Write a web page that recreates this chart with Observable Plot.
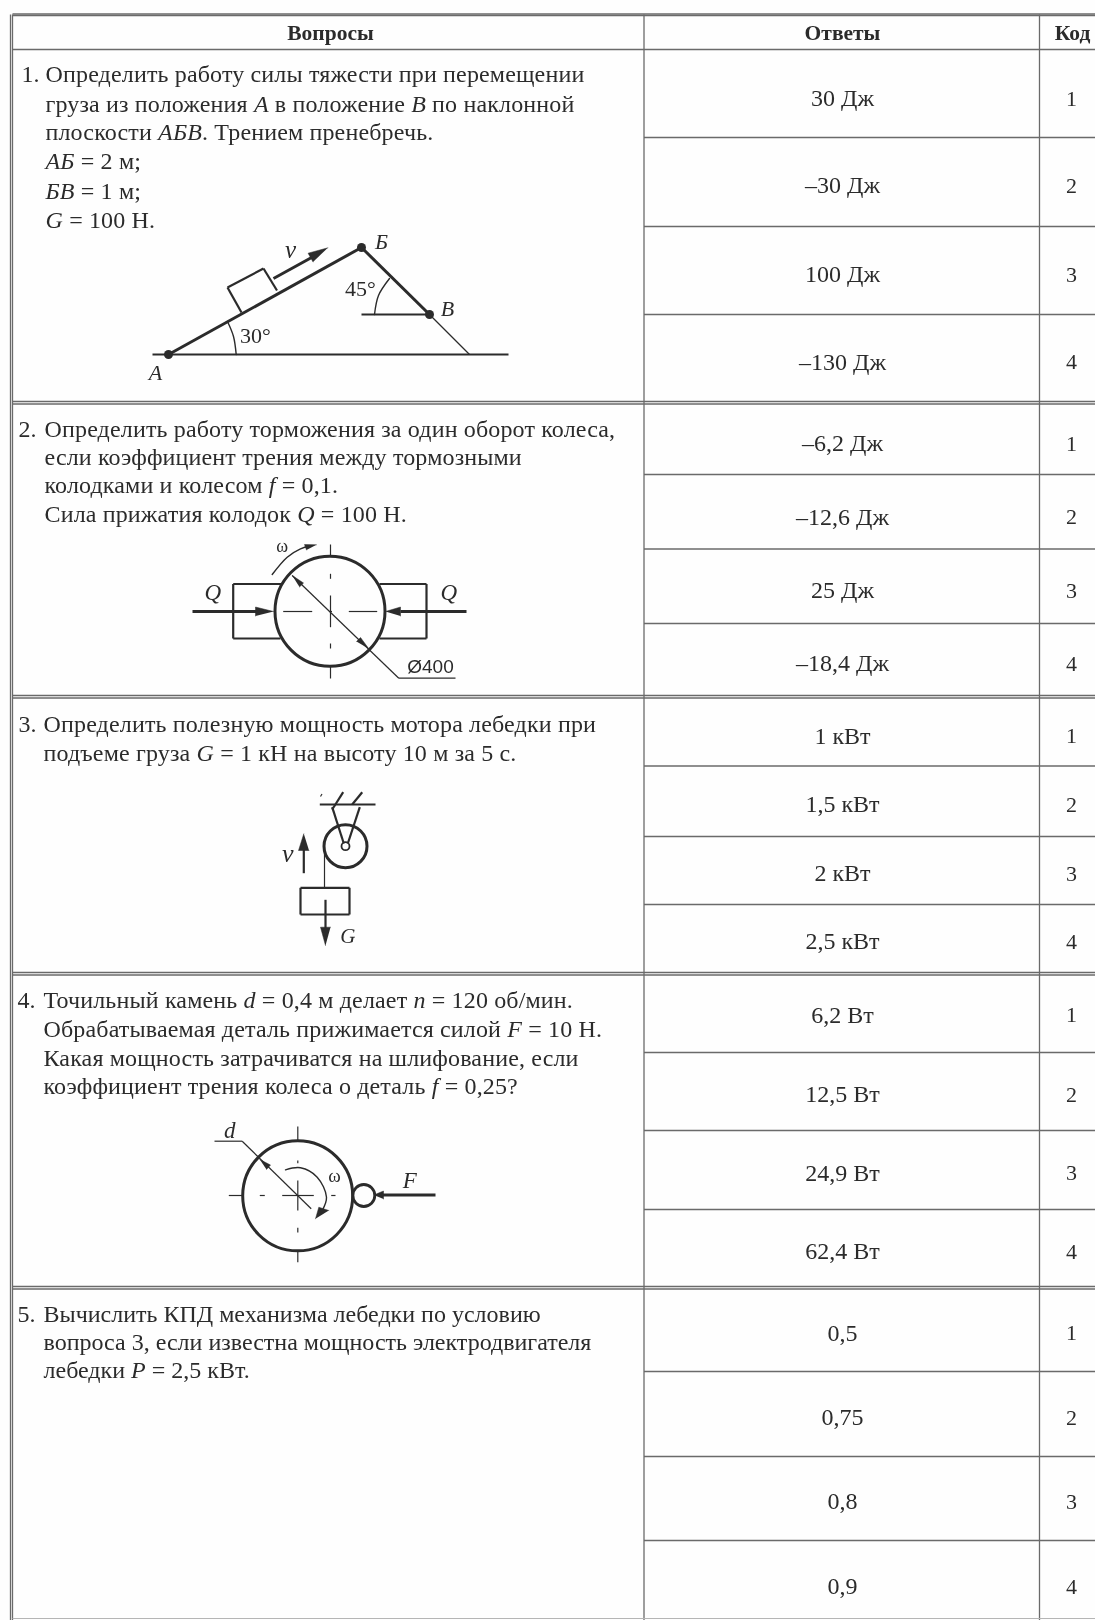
<!DOCTYPE html>
<html lang="ru">
<head>
<meta charset="utf-8">
<script src="https://cdn.jsdelivr.net/npm/d3@7"></script>
<script src="https://cdn.jsdelivr.net/npm/@observablehq/plot@0.6"></script>
<style>
html,body{margin:0;padding:0;background:#fff}
svg{display:block;filter:blur(0.45px)}
</style>
</head>
<body>
<div id="chart"></div>
<script>
// ---------- table structure ----------
const headers = [["Вопросы", 330], ["Ответы", 842], ["Код", 1072]];
const columnEdges = [12, 643.5, 1039];
const sectionEdges = [49, 401, 695, 972, 1286];
const answerEdges = [137, 226, 314, 474, 548.5, 623, 765.5, 836, 904, 1052, 1130, 1209, 1371, 1456, 1540];

// ---------- questions; _x_ marks italics ----------
const questionNumbers = [["1.", 21, 81.5], ["2.", 18, 436], ["3.", 18, 731], ["4.", 17, 1007], ["5.", 17, 1321.5]];
const questionLines = [
  [45, 81.5, "Определить работу силы тяжести при перемещении"],
  [45, 111, "груза из положения _А_ в положение _В_ по наклонной"],
  [45, 139.5, "плоскости _АБВ_. Трением пренебречь."],
  [45, 168, "_АБ_ = 2 м;"],
  [45, 198, "_БВ_ = 1 м;"],
  [45, 227, "_G_ = 100 Н."],
  [44, 436, "Определить работу торможения за один оборот колеса,"],
  [44, 464.5, "если коэффициент трения между тормозными"],
  [44, 492.5, "колодками и колесом _f_ = 0,1."],
  [44, 521, "Сила прижатия колодок _Q_ = 100 Н."],
  [43, 731, "Определить полезную мощность мотора лебедки при"],
  [43, 760, "подъеме груза _G_ = 1 кН на высоту 10 м за 5 с."],
  [43, 1007, "Точильный камень _d_ = 0,4 м делает _n_ = 120 об/мин."],
  [43, 1036, "Обрабатываемая деталь прижимается силой _F_ = 10 Н."],
  [43, 1065, "Какая мощность затрачиватся на шлифование, если"],
  [43, 1093.5, "коэффициент трения колеса о деталь _f_ = 0,25?"],
  [43, 1321.5, "Вычислить КПД механизма лебедки по условию"],
  [43, 1349.5, "вопроса 3, если известна мощность электродвигателя"],
  [43, 1377.5, "лебедки _P_ = 2,5 кВт."]
];

// ---------- answers ----------
const answers = ["30 Дж", "–30 Дж", "100 Дж", "–130 Дж",
  "–6,2 Дж", "–12,6 Дж", "25 Дж", "–18,4 Дж",
  "1 кВт", "1,5 кВт", "2 кВт", "2,5 кВт",
  "6,2 Вт", "12,5 Вт", "24,9 Вт", "62,4 Вт",
  "0,5", "0,75", "0,8", "0,9"];
const answerRows = [98, 185, 274, 361.5, 443, 516.5, 590, 663, 735.5, 804, 873, 941, 1014.5, 1094, 1172.5, 1251, 1332.5, 1417, 1501, 1586];
const codes = ["1", "2", "3", "4"];

// ---------- diagrams: heavy, medium and thin strokes, [x1,y1,x2,y2] ----------
const heavy = [
  [168, 354, 361, 247], [361, 247, 429, 314],
  [273, 278, 312, 256.5],
  [192, 611, 256, 611], [400, 611, 466, 611],
  [435, 1194.5, 382, 1194.5]
];
const medium = [
  [152, 354, 508, 354], [361, 314, 429, 314],
  [227, 287, 263, 268], [263, 268, 276.5, 290], [227, 287, 241, 312],
  [232.7, 583.5, 281.5, 583.5], [232.7, 583.5, 232.7, 638], [232.7, 638, 280, 638],
  [379, 583.5, 426, 583.5], [426, 583.5, 426, 638], [379, 638, 426, 638],
  [319.3, 804, 375, 804], [300, 887.3, 349, 887.3], [300, 914, 349, 914],
  [300, 887.3, 300, 914], [349, 887.3, 349, 914],
  [325, 899.3, 325, 928], [303.3, 872.7, 303.3, 849],
  [331.7, 806.7, 343.3, 843], [359.3, 806.7, 347.3, 843],
  [342.7, 791.7, 331.7, 809], [361.7, 791.7, 351.7, 804]
];
const thin = [
  [429, 314, 469, 354],
  [330, 544, 330, 555], [330, 573.3, 330, 578.3], [330, 595, 330, 626.7], [330, 643, 330, 648], [330, 665, 330, 678],
  [282.7, 611, 311.7, 611], [328.5, 611, 331.5, 611], [348.3, 611, 376.7, 611],
  [291.7, 575, 398.3, 677.7], [398.3, 677.7, 455, 677.7],
  [321.5, 793.5, 320, 796],
  [324, 845.7, 324, 887.3],
  [297.3, 1126, 297.3, 1140], [297.3, 1160, 297.3, 1162.7], [297.3, 1180, 297.3, 1210], [297.3, 1227.3, 297.3, 1232], [297.3, 1250, 297.3, 1261.7],
  [228.3, 1195, 241.7, 1195], [259.3, 1195, 264.3, 1195], [281.7, 1195, 313.3, 1195], [330.7, 1195, 335, 1195],
  [214, 1140.7, 241.7, 1140.7], [241.7, 1140.7, 310.7, 1208.3]
];
const arcs = [
  [[235.7, 354], [233, 336], [227, 321]],
  [[374, 314], [378, 295], [389, 278]],
  [[271.7, 574], [286.7, 556.7], [300, 548.3], [310, 545.5]],
  [[285, 1169.3], [300, 1167.3], [316.7, 1176.7], [326, 1196.7], [321.7, 1210]]
];
const arrowHeads = [
  [[327.4, 247.3], [307.6, 252.7], [312.5, 261.4]],
  [[273, 611], [255, 606.5], [255, 615.5]],
  [[385, 611], [400, 606.5], [400, 615.5]],
  [[291.7, 575], [303, 582.5], [299, 586.5]],
  [[368.3, 648.3], [360, 637], [356, 641]],
  [[316, 544.3], [304, 544], [306, 549.5]],
  [[325, 945], [320, 926.7], [330, 926.7]],
  [[303.3, 833.3], [298, 850], [308.5, 850]],
  [[259.3, 1159], [270, 1164.5], [266, 1169]],
  [[315, 1218.3], [318.3, 1206.7], [328.3, 1210]],
  [[373.3, 1194.5], [383, 1190.5], [383, 1198.5]]
];
const wheels = [[329.5, 610.7, 55, 3], [297.2, 1195.3, 55, 3], [345, 845.7, 21.5, 3], [345, 845.7, 4, 1.8], [363.3, 1195, 11, 2.8]];
const blackDots = [[168, 354], [361, 247], [429, 314]];
const diagramLabels = [
  ["_v_", 290, 249, 25], ["_Б_", 381, 241, 22], ["_В_", 447, 308, 22], ["_А_", 155, 372, 22],
  ["45°", 360, 288, 22], ["30°", 255, 335, 22],
  ["_Q_", 212.3, 592, 23], ["_Q_", 448.3, 592, 23], ["ω", 281.7, 546, 18],
  ["_v_", 287.3, 853, 26], ["_G_", 347.3, 936, 21],
  ["_d_", 229.3, 1130, 23], ["ω", 334, 1175, 19], ["_F_", 409.3, 1180, 23]
];

// ---------- build tables ----------
const lineColor = "#6a6a6a", ink = "#2b2b2b";
const segs = a => a.map(([x1, y1, x2, y2]) => ({x1, y1, x2, y2}));
const linkMark = (a, strokeWidth, stroke = ink) =>
  Plot.link(segs(a), {x1: "x1", y1: "y1", x2: "x2", y2: "y2", stroke, strokeWidth});
const paths = a => a.flatMap((pts, z) => pts.map(([x, y]) => ({x, y, z})));
const answerTable = answers.map((text, i) => ({text, y: answerRows[i], code: codes[i % 4]}));
const right = 1095;

const tableLinks = [
  ...columnEdges.slice(1).map(x => [x, 14, x, 1620]),
  [12, 14, 12, 1620], [10, 14, 10, 1620],
  [12, 13.5, right, 13.5], [12, 15, right, 15],
  [12, 49, right, 49],
  ...sectionEdges.slice(1).flatMap(y => [[12, y, right, y], [12, y + 2.5, right, y + 2.5]]),
  ...answerEdges.map(y => [643.5, y, right, y])
];
const questionText = {x: d => d[0], y: d => d[1], text: d => d[2], textAnchor: "start", lineAnchor: "bottom", fontSize: 24, fill: ink};

const plot = Plot.plot({
  width: 1095, height: 1620,
  margin: 0,
  x: {domain: [0, 1095], range: [0, 1095], axis: null},
  y: {domain: [0, 1620], range: [0, 1620], axis: null},
  r: {type: "identity"},
  style: {fontFamily: "'Liberation Serif', serif", background: "#fefefe", color: ink},
  marks: [
    linkMark(tableLinks, 1.3, lineColor),
    linkMark([[12, 1618, right, 1618]], 1.2, "#b5b5b5"),
    linkMark(thin, 1.2),
    linkMark(medium, 2.2),
    linkMark(heavy, 3),
    Plot.line(paths(arcs), {x: "x", y: "y", z: "z", curve: "catmull-rom", stroke: ink, strokeWidth: 1.4}),
    Plot.line(paths(arrowHeads), {x: "x", y: "y", z: "z", fill: ink, stroke: ink, strokeWidth: 0.5}),
    Plot.dot(wheels, {x: d => d[0], y: d => d[1], r: d => d[2], strokeWidth: d => d[3], stroke: ink, fill: "none"}),
    Plot.dot(blackDots, {x: d => d[0], y: d => d[1], r: 4.5, fill: ink, stroke: null}),
    Plot.text(headers, {x: d => d[1], y: 33, text: d => d[0], fontWeight: "bold", fontSize: 21.5, fill: ink}),
    Plot.text(questionNumbers, {x: d => d[1], y: d => d[2], text: d => d[0], textAnchor: "start", lineAnchor: "bottom", fontSize: 24, fill: ink}),
    Plot.text(questionLines.slice(0, 16), {...questionText, className: "q"}),
    Plot.text(questionLines.slice(16), questionText),
    Plot.text(answerTable, {x: 842, y: "y", text: "text", fontSize: 24, fill: ink}),
    Plot.text(answerTable, {x: 1071, y: "y", text: "code", fontSize: 22, fill: ink}),
    Plot.text(diagramLabels, {x: d => d[1], y: d => d[2], text: d => d[0], fontSize: d => d[3], fill: ink}),
    Plot.text(["Ø400"], {x: 430, y: 666, text: d => d, fontSize: 19, fontFamily: "'Liberation Sans', sans-serif", fill: ink})
  ]
});

// turn the _x_ markers into italic tspans, keeping the text as real text
plot.querySelectorAll("text").forEach(t => {
  const parts = t.textContent.split("_");
  if (parts.length < 2) return;
  t.textContent = "";
  parts.forEach((p, i) => {
    if (!p) return;
    const s = document.createElementNS("http://www.w3.org/2000/svg", "tspan");
    s.textContent = p;
    if (i % 2) s.setAttribute("font-style", "italic");
    t.appendChild(s);
  });
});
plot.querySelectorAll("g.q text").forEach(t => t.style.letterSpacing = "0.15px");
document.getElementById("chart").appendChild(plot);
</script>
</body>
</html>
